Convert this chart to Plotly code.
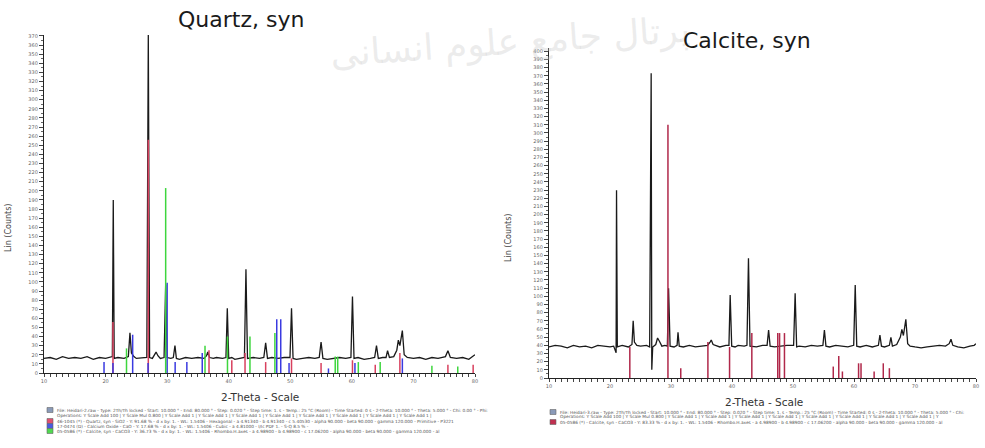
import plotly.graph_objects as go

W, H = 985, 448

# ---------------- Left chart: Quartz, syn ----------------
left_pattern_x = [10, 11, 12, 13, 14, 15, 16, 17, 18, 19, 20, 20.8, 21.1, 21.25, 21.4, 22, 23, 23.7, 23.96, 24.2, 24.6,
                  25, 26, 26.7, 26.94, 27.15, 27.6, 28.0, 28.2, 28.5, 28.9, 29.5, 29.76, 30.0, 30.6, 31.0, 31.27, 31.5,
                  32, 33, 34, 35, 36, 36.4, 36.6, 36.9, 37.5, 38, 39, 39.55, 39.77, 40.0, 40.5, 41, 42, 42.55, 42.8,
                  43.05, 44, 45, 45.7, 46.0, 46.3, 47, 48, 49, 49.95, 50.2, 50.45, 51, 52, 53, 54, 54.7, 55.0, 55.3,
                  56, 57, 58, 59, 59.85, 60.1, 60.35, 61, 62, 63, 63.7, 64.0, 64.3, 65, 65.55, 65.8, 66.1, 66.8, 67.3,
                  67.55, 67.8, 68.2, 68.5, 69, 70, 71, 72, 73, 74, 75.2, 75.6, 76, 77, 78, 79, 79.6, 80]
left_pattern_y = [16, 17, 15, 18, 16, 17, 16, 18, 15, 17, 16, 17, 18, 190, 16, 17, 16, 18, 44, 22, 18,
                  16, 17, 17, 371, 17, 16, 20, 23, 19, 16, 17, 97, 17, 16, 17, 30, 16,
                  15, 17, 16, 17, 16, 19, 23, 17, 16, 17, 16, 17, 71, 16, 17, 15, 16, 17, 114,
                  16, 17, 16, 17, 33, 16, 17, 16, 17, 17, 71, 16, 15, 16, 17, 16, 17, 34, 16,
                  15, 16, 17, 16, 17, 84, 16, 17, 15, 16, 17, 30, 16, 17, 17, 24.5, 17, 18, 25,
                  36, 30, 46.5, 20, 17, 16, 17, 15, 17, 16, 18, 24.5, 17, 16, 17, 15, 18, 20]

quartz_pos = [21.2, 26.94, 36.8, 40.5, 42.65, 46.0, 50.2, 55.0, 60.1, 63.8, 67.8, 75.6, 79.7]
quartz_int = [56, 256, 25, 14, 22, 12, 16, 11, 14, 9, 22, 9, 9]

cao_pos = [19.75, 21.2, 24.4, 26.9, 30.0, 31.3, 33.2, 35.7, 47.8, 48.45, 49.8, 56.2, 60.5, 68.2]
cao_int = [12, 11, 42, 11, 99, 12, 12, 22, 59, 59, 11, 5, 11, 16]

calcite_l_pos = [23.4, 29.76, 36.15, 39.8, 43.45, 47.5, 57.3, 57.7, 61.05, 64.6, 73.0, 77.2]
calcite_l_int = [27, 203, 30, 40, 40, 44, 18, 18, 12, 12, 8, 7]

# ---------------- Right chart: Calcite, syn ----------------
right_pattern_x = [10, 11, 12, 13, 14, 15, 16, 17, 18, 19, 20, 20.6, 20.9, 21.0, 21.07, 21.2, 22, 23, 23.6, 23.8, 24.0,
                   24.4, 25, 26, 26.5, 26.75, 26.85, 27.0, 27.5, 27.8, 28.1, 28.5, 29, 29.4, 29.6, 29.85, 30.5, 31.0,
                   31.15, 31.35, 32, 33, 34, 35, 36, 36.4, 36.6, 36.9, 37.5, 38, 39, 39.5, 39.7, 39.95, 40.5, 41, 42,
                   42.45, 42.7, 42.95, 44, 45, 45.75, 46.0, 46.25, 47, 48, 49, 50.1, 50.35, 50.6, 51, 52, 53, 54,
                   54.9, 55.15, 55.4, 56, 57, 58, 59, 59.95, 60.2, 60.45, 61, 62, 63, 64.0, 64.25, 64.5, 65, 65.8,
                   66.05, 66.3, 67, 67.6, 67.85, 68.1, 68.5, 68.8, 69.2, 70, 71, 72, 73, 74, 75.0, 75.6, 75.9, 76.2,
                   77, 78, 79, 79.7, 80]
right_pattern_y = [38, 40, 39, 37, 40, 38, 39, 37, 40, 39, 38, 39, 33, 31, 230, 38, 40, 38, 41, 70, 44,
                   40, 39, 40, 38, 373, 10, 38, 41, 49, 45, 39, 40, 39, 110, 39, 38, 40,
                   56, 39, 38, 40, 38, 39, 40, 44, 46.5, 41, 39, 38, 40, 40, 101.6, 39, 38, 40, 39,
                   40, 146.5, 39, 38, 40, 40, 58.8, 39, 38, 39, 40, 40, 103.7, 38, 39, 38, 40, 39,
                   40, 58.8, 39, 38, 40, 39, 38, 40, 113.8, 39, 38, 40, 38, 40, 52.6, 39, 38, 40,
                   49.8, 39, 41, 50, 59.6, 52, 71.8, 42, 39, 38, 37, 38, 39, 40, 39, 42, 47.4, 40,
                   38, 37, 39, 40, 42]

calcite_r_pos = [23.25, 29.5, 31.6, 36.05, 39.6, 43.25, 47.5, 47.8, 48.6, 56.6, 57.5, 58.1, 60.75, 61.15, 63.3, 64.8, 65.8]
calcite_r_int = [38, 310, 12, 44, 38, 55, 55, 55, 55, 14, 27, 8, 18, 18, 8, 18, 12]

x_ticks = [10, 20, 30, 40, 50, 60, 70, 80]
left_y_ticks = list(range(0, 371, 10))
right_y_ticks = list(range(0, 401, 10))

titles = ["Quartz, syn", "Calcite, syn"]
x_title = "2-Theta - Scale"
y_title = "Lin (Counts)"

left_legend = [
    "File: Heidari-2.raw - Type: 2Th/Th locked - Start: 10.000 ° - End: 80.000 ° - Step: 0.020 ° - Step time: 1. s - Temp.: 25 °C (Room) - Time Started: 0 s - 2-Theta: 10.000 ° - Theta: 5.000 ° - Chi: 0.00 ° - Phi:",
    "Operations: Y Scale Add 100 | Y Scale Mul 0.800 | Y Scale Add 1 | Y Scale Add 1 | Y Scale Add 1 | Y Scale Add 1 | Y Scale Add 1 | Y Scale Add 1 | Y Scale Add 1 | Y Scale Add 1 |",
    "46-1045 (*) - Quartz, syn - SiO2 - Y: 91.68 % - d x by: 1. - WL: 1.5406 - Hexagonal - a 4.91340 - b 4.91340 - c 5.40530 - alpha 90.000 - beta 90.000 - gamma 120.000 - Primitive - P3221",
    "17-0474 (D) - Calcium Oxide - CaO - Y: 17.68 % - d x by: 1. - WL: 1.5406 - Cubic - a 4.81000 - I/Ic PDF 1. - S-Q 8.5 % -",
    "05-0586 (*) - Calcite, syn - CaCO3 - Y: 36.73 % - d x by: 1. - WL: 1.5406 - Rhombo.H.axes - a 4.98900 - b 4.98900 - c 17.06200 - alpha 90.000 - beta 90.000 - gamma 120.000 - al",
]
right_legend = [
    "File: Heidari-3.raw - Type: 2Th/Th locked - Start: 10.000 ° - End: 80.000 ° - Step: 0.020 ° - Step time: 1. s - Temp.: 25 °C (Room) - Time Started: 0 s - 2-Theta: 10.000 ° - Theta: 5.000 ° - Chi:",
    "Operations: Y Scale Add 100 | Y Scale Mul 0.800 | Y Scale Add 1 | Y Scale Add 1 | Y Scale Add 1 | Y Scale Add 1 | Y Scale Add 1 | Y Scale Add 1 | Y Scale Add 1 | Y Scale Add 1 | Y",
    "05-0586 (*) - Calcite, syn - CaCO3 - Y: 83.33 % - d x by: 1. - WL: 1.5406 - Rhombo.H.axes - a 4.98900 - b 4.98900 - c 17.06200 - alpha 90.000 - beta 90.000 - gamma 120.000 - al",
]
watermark = "پرتال جامع علوم انسانی"


def px(x):
    return x / W


def py(y):
    return 1 - y / H


def sticks(pos, inten):
    xs, ys = [], []
    for p, h in zip(pos, inten):
        xs += [p, p, None]
        ys += [0, h, None]
    return xs, ys


fig = go.Figure()

# Left
fig.add_trace(go.Scatter(x=left_pattern_x, y=left_pattern_y, mode="lines",
                         line=dict(color="#1a1a1a", width=1.3), xaxis="x", yaxis="y"))
for pos, inten, col in [(quartz_pos, quartz_int, "#d8405e"), (cao_pos, cao_int, "#3a3ae0"),
                        (calcite_l_pos, calcite_l_int, "#3ed63e")]:
    sx, sy = sticks(pos, inten)
    fig.add_trace(go.Scatter(x=sx, y=sy, mode="lines", line=dict(color=col, width=1.5),
                             xaxis="x", yaxis="y", connectgaps=False))

# Right
fig.add_trace(go.Scatter(x=right_pattern_x, y=right_pattern_y, mode="lines",
                         line=dict(color="#1a1a1a", width=1.3), xaxis="x2", yaxis="y2"))
sx, sy = sticks(calcite_r_pos, calcite_r_int)
fig.add_trace(go.Scatter(x=sx, y=sy, mode="lines", line=dict(color="#b0284a", width=1.5),
                         xaxis="x2", yaxis="y2", connectgaps=False))

tickfont = dict(family="DejaVu Sans", size=5, color="#666")
xax = dict(range=[10, 80], tickvals=x_ticks, ticktext=[str(v) for v in x_ticks], showgrid=False, zeroline=False,
           showline=True, linecolor="#222", linewidth=1.2, ticks="outside", ticklen=3, tickcolor="#444",
           tickfont=tickfont, automargin=False,
           minor=dict(dtick=1, ticks="outside", ticklen=3, tickcolor="#444"))
yax_common = dict(showgrid=False, zeroline=False, showline=True, linecolor="#222", linewidth=1.2,
                  ticks="outside", ticklen=4, tickcolor="#444", tickfont=tickfont, automargin=False,
                  minor=dict(dtick=5, ticks="outside", ticklen=2, tickcolor="#666"))

fig.update_layout(
    width=W, height=H, margin=dict(l=0, r=0, t=0, b=0), autosize=False,
    paper_bgcolor="white", plot_bgcolor="white", showlegend=False,
    xaxis=dict(domain=[px(44), px(475)], anchor="y", **xax),
    yaxis=dict(domain=[py(373), py(35)], anchor="x", range=[0, 371],
               tickvals=left_y_ticks, **yax_common),
    xaxis2=dict(domain=[px(549), px(976)], anchor="y2", **xax),
    yaxis2=dict(domain=[py(378), py(48)], anchor="x2", range=[0, 404],
                tickvals=right_y_ticks, **yax_common),
)

ann = []
shapes = []


def centered(text, cx, cy, font, angle=0):
    return dict(text=text, x=px(cx), y=py(cy), xref="paper", yref="paper", showarrow=False,
                xanchor="center", yanchor="middle", textangle=angle, font=font)


# watermark
ann.append(centered(watermark, 510, 42, dict(family="DejaVu Sans", size=36, color="rgba(200,200,200,0.35)"), -4))
# titles
ann.append(centered(titles[0], 241, 20, dict(family="DejaVu Sans", size=22, color="#1a1a1a")))
ann.append(centered(titles[1], 747, 40, dict(family="DejaVu Sans", size=22, color="#1a1a1a")))
# axis titles
for cx, cy in [(260, 397), (764, 402)]:
    ann.append(centered(x_title, cx, cy, dict(family="DejaVu Sans", size=10.5, color="#333")))
for cx, cy in [(8, 228), (508, 238)]:
    ann.append(centered(y_title, cx, cy, dict(family="DejaVu Sans", size=8, color="#444"), -90))

# legends
left_rows_y = [410, 415.5, 421, 426, 431]
left_icons = ["#8a9ab8", None, "#e05070", "#4a5ae0", "#50d850"]
for ty, txt, ic in zip(left_rows_y, left_legend, left_icons):
    ann.append(dict(text=txt, x=px(55), y=py(ty), xref="paper", yref="paper", showarrow=False,
                    xanchor="left", yanchor="middle", font=dict(family="DejaVu Sans", size=4.3, color="#555")))
    if ic:
        shapes.append(dict(type="rect", xref="paper", yref="paper", x0=px(47), x1=px(53),
                           y0=py(ty + 2.5), y1=py(ty - 2.5), fillcolor=ic, line=dict(width=0.6, color="#666")))
right_rows_y = [412, 417, 422]
right_icons = ["#8a9ab8", None, "#c03050"]
for ty, txt, ic in zip(right_rows_y, right_legend, right_icons):
    ann.append(dict(text=txt, x=px(558), y=py(ty), xref="paper", yref="paper", showarrow=False,
                    xanchor="left", yanchor="middle", font=dict(family="DejaVu Sans", size=4.3, color="#555")))
    if ic:
        shapes.append(dict(type="rect", xref="paper", yref="paper", x0=px(550), x1=px(556),
                           y0=py(ty + 2.5), y1=py(ty - 2.5), fillcolor=ic, line=dict(width=0.6, color="#666")))

fig.update_layout(annotations=ann, shapes=shapes)
fig.write_html("out.html", config={"displayModeBar": False},
               post_script="document.body.style.margin='0px';document.body.style.padding='0px';")
